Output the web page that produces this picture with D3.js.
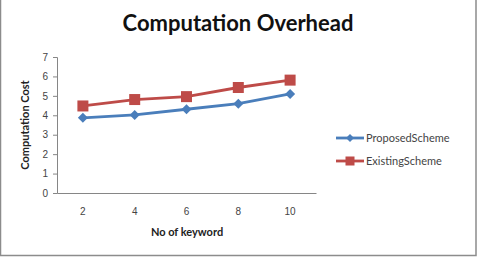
<!DOCTYPE html>
<html>
<head>
<meta charset="utf-8">
<script src="https://cdn.jsdelivr.net/npm/d3@7"></script>
<style>
  body { margin: 0; background: #fff; }
  svg { display: block; font-family: Lato, "Open Sans", sans-serif; }
</style>
</head>
<body>
<div id="chart"></div>
<script>
// keyword counts on the x axis
const keywords = ["2", "4", "6", "8", "10"];
const proposedCost = [3.87, 4.02, 4.31, 4.6, 5.1];
const existingCost = [4.48, 4.81, 4.96, 5.43, 5.81];
const yTicks = [0, 1, 2, 3, 4, 5, 6, 7];

const seriesList = [
  { name: "ProposedScheme", values: proposedCost, color: "#4a7ebb", marker: "diamond" },
  { name: "ExistingScheme", values: existingCost, color: "#be4b48", marker: "square" },
];

const WIDTH = 483, HEIGHT = 260;
const plot = { left: 57, right: 316, top: 57, bottom: 193 };

const svg = d3.select("#chart").append("svg")
  .attr("width", WIDTH).attr("height", HEIGHT);

// outer frame (left, right, bottom edges only)
svg.append("path")
  .attr("d", `M0.5,0 V255.5 H476 V0`)
  .attr("fill", "none").attr("stroke", "#8c8c8c").attr("stroke-width", 1.5);

svg.append("text")
  .attr("x", 238).attr("y", 31)
  .attr("text-anchor", "middle")
  .attr("font-size", 22).attr("font-weight", "bold")
  .attr("fill", "#111")
  .text("Computation Overhead");

const x = d3.scaleBand().domain(keywords).range([plot.left, plot.right]);
const y = d3.scaleLinear().domain([0, 7]).range([plot.bottom, plot.top]);

// y axis
const yAxis = svg.append("g")
  .attr("transform", `translate(${plot.left},0)`)
  .call(d3.axisLeft(y).tickValues(yTicks).tickFormat(d3.format("d")).tickSize(4).tickPadding(5));
yAxis.select(".domain").attr("stroke", "#868686");
yAxis.selectAll(".tick line").attr("stroke", "#868686");
yAxis.selectAll(".tick text").attr("font-size", 10).attr("fill", "#444");

// x axis
const xAxis = svg.append("g")
  .attr("transform", `translate(0,${plot.bottom})`)
  .call(d3.axisBottom(x).tickSize(0).tickPadding(15).tickSizeOuter(0));
xAxis.select(".domain").attr("stroke", "#868686");
xAxis.selectAll(".tick text").attr("font-size", 10).attr("fill", "#444");

svg.append("text")
  .attr("x", 187).attr("y", 236)
  .attr("text-anchor", "middle")
  .attr("font-size", 11).attr("font-weight", "bold").attr("fill", "#222")
  .text("No of keyword");

svg.append("text")
  .attr("transform", `translate(29,125) rotate(-90)`)
  .attr("text-anchor", "middle")
  .attr("font-size", 11).attr("font-weight", "bold").attr("fill", "#222")
  .text("Computation Cost");

const cx = (k) => x(k) + x.bandwidth() / 2;

function drawMarker(g, type, color) {
  if (type === "square") {
    g.append("rect").attr("x", -5.5).attr("y", -5.5).attr("width", 11).attr("height", 11)
      .attr("fill", color);
  } else {
    g.append("path").attr("d", "M0,-5 L5,0 L0,5 L-5,0 Z").attr("fill", color);
  }
}

seriesList.forEach((s) => {
  const pts = keywords.map((k, i) => ({ k, v: s.values[i] }));
  svg.append("path")
    .datum(pts)
    .attr("fill", "none")
    .attr("stroke", s.color)
    .attr("stroke-width", 2.8)
    .attr("d", d3.line().x((d) => cx(d.k)).y((d) => y(d.v)));
  pts.forEach((d) => {
    const g = svg.append("g").attr("transform", `translate(${cx(d.k)},${y(d.v)})`);
    drawMarker(g, s.marker, s.color);
  });
});

// legend
const legend = svg.append("g");
seriesList.forEach((s, i) => {
  const ly = 138 + i * 23;
  legend.append("line")
    .attr("x1", 336).attr("x2", 364).attr("y1", ly).attr("y2", ly)
    .attr("stroke", s.color).attr("stroke-width", 2.8);
  const g = legend.append("g").attr("transform", `translate(350,${ly})`);
  if (s.marker === "square") {
    g.append("rect").attr("x", -4.5).attr("y", -4.5).attr("width", 9).attr("height", 9).attr("fill", s.color);
  } else {
    g.append("path").attr("d", "M0,-4 L4,0 L0,4 L-4,0 Z").attr("fill", s.color);
  }
  legend.append("text")
    .attr("x", 366).attr("y", ly + 4)
    .attr("font-size", 11).attr("fill", "#444")
    .text(s.name);
});
</script>
</body>
</html>
